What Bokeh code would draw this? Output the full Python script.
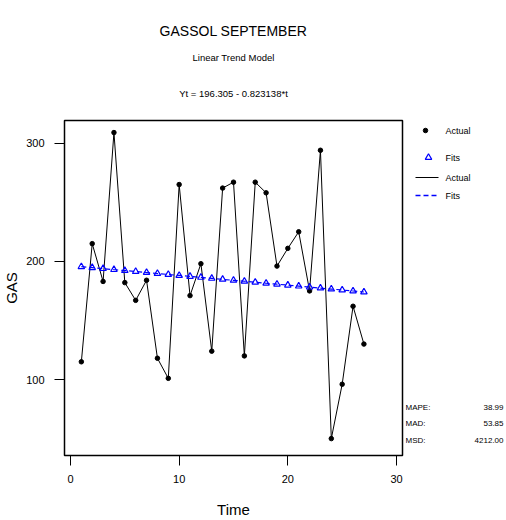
from bokeh.plotting import figure
from bokeh.models import Range1d, Title, FixedTicker
from bokeh.layouts import row
from bokeh.core.properties import value
from bokeh.embed import file_html
from bokeh.resources import INLINE

# ---- data ----
t = list(range(1, 28))
actual = [115, 215, 183, 309, 182, 167, 184, 118, 101, 265, 171, 198, 124, 262,
          267, 120, 267, 258, 196, 211, 225, 175, 294, 50, 96, 162, 130]
fits = [195.48, 194.66, 193.84, 193.01, 192.19, 191.37, 190.54, 189.72, 188.90,
        188.07, 187.25, 186.43, 185.60, 184.78, 183.96, 183.14, 182.31, 181.49,
        180.67, 179.84, 179.02, 178.20, 177.37, 176.55, 175.73, 174.90, 174.08]
x_ticks = [0, 10, 20, 30]
y_ticks = [100, 200, 300]
title_main = "GASSOL SEPTEMBER"
title_sub = "Linear Trend Model"
equation = "Yt = 196.305 - 0.823138*t"
legend_labels = ["Actual", "Fits", "Actual", "Fits"]
stat_names = ["MAPE:", "MAD:", "MSD:"]
stat_values = ["38.99", "53.85", "4212.00"]

FONT = "Liberation Sans"
BLUE = "#0000ff"

# ---- main plot ----
p = figure(width=405, height=520, output_backend="svg", toolbar_location=None,
           x_range=Range1d(-0.55, 30.55), y_range=Range1d(35.7, 319.2),
           min_border_left=64, min_border_right=3, min_border_top=120,
           min_border_bottom=65)
p.xgrid.visible = False
p.ygrid.visible = False
p.outline_line_color = "black"
p.outline_line_width = 1.5

for ax in (p.xaxis[0], p.yaxis[0]):
    ax.major_label_text_font = FONT
    ax.major_label_text_font_size = "11px"
    ax.major_label_text_color = "black"
    ax.axis_line_color = "black"
    ax.major_tick_line_color = "black"
    ax.minor_tick_line_color = None
    ax.major_tick_in = 0
    ax.major_tick_out = 10
    ax.axis_label_text_font = FONT
    ax.axis_label_text_font_style = "normal"
    ax.axis_label_text_color = "black"

p.xaxis.ticker = FixedTicker(ticks=x_ticks)
p.yaxis.ticker = FixedTicker(ticks=y_ticks)
p.xaxis.axis_label = "Time"
p.yaxis.axis_label = "GAS"
p.xaxis.axis_label_text_font_size = "15px"
p.yaxis.axis_label_text_font_size = "15px"
p.xaxis.major_label_standoff = 9
p.yaxis.major_label_standoff = 10
p.xaxis.axis_label_standoff = 15
p.yaxis.axis_label_standoff = 3

p.line(t, actual, line_color="black", line_width=1)
p.line(t, fits, line_color=BLUE, line_width=1.2, line_dash="5 3")
p.scatter(t, actual, marker="circle", size=4.5, fill_color="black", line_color="black")
p.scatter(t, fits, marker="triangle", size=6.5, fill_color=None, line_color=BLUE, line_width=1.2)

# stacked titles (first added sits closest to the frame)
p.add_layout(Title(text=equation, align="center", text_font=FONT, text_font_size="9.5px",
                   text_font_style="normal", text_color="black", standoff=43), "above")
p.add_layout(Title(text=title_sub, align="center", text_font=FONT, text_font_size="9.5px",
                   text_font_style="normal", text_color="black", standoff=2.5), "above")
p.add_layout(Title(text=title_main, align="center", text_font=FONT, text_font_size="14px",
                   text_font_style="normal", text_color="black", standoff=19.5), "above")

# ---- side panel: legend and accuracy measures ----
# the row aligns this panel's frame with the main frame (page y 120..455),
# so its ranges are expressed in page pixels over that span
s = figure(width=101, height=520, output_backend="svg", toolbar_location=None,
           x_range=Range1d(405, 506), y_range=Range1d(455, 120),
           min_border=0, min_border_left=0, min_border_right=0,
           min_border_top=120, min_border_bottom=65)
s.axis.visible = False
s.grid.visible = False
s.outline_line_color = None

leg_y = [130, 157, 177, 195]
s.scatter([425], [leg_y[0]], marker="circle", size=4.5, fill_color="black", line_color="black")
s.scatter([428], [leg_y[1]], marker="triangle", size=6.5, fill_color=None, line_color=BLUE, line_width=1.2)
s.line([415, 438], [leg_y[2], leg_y[2]], line_color="black", line_width=1.2)
s.line([415, 438], [leg_y[3], leg_y[3]], line_color=BLUE, line_width=1.5, line_dash="5 3")
s.text(x=[445] * 4, y=leg_y, text=legend_labels, text_font=value(FONT),
       text_font_size="9px", text_baseline="middle", text_align="left", text_color="black")

stat_y = [407, 423, 440]
s.text(x=[405] * 3, y=stat_y, text=stat_names, text_font=value(FONT),
       text_font_size="8px", text_baseline="middle", text_align="left", text_color="black")
s.text(x=[503] * 3, y=stat_y, text=stat_values, text_font=value(FONT),
       text_font_size="8px", text_baseline="middle", text_align="right", text_color="black")

layout = row(p, s)
open("out.html", "w").write(file_html(layout, INLINE))
